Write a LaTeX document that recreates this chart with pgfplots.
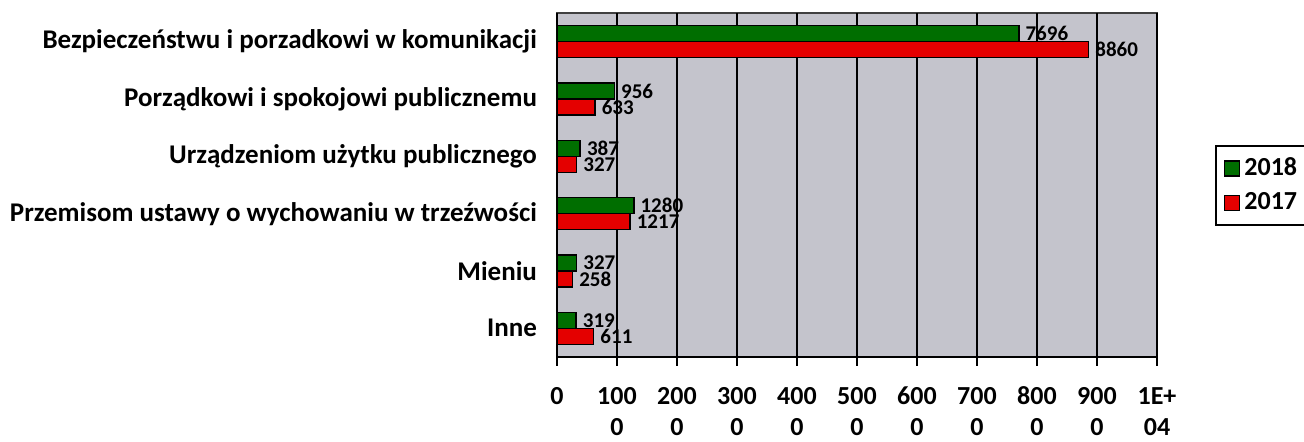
\documentclass[border=0pt]{standalone}
\usepackage{fontspec}
\setmainfont{Carlito}
\usepackage{pgfplots}
\pgfplotsset{compat=1.18}
\definecolor{bgray}{RGB}{196,196,204}
\definecolor{dgreen}{RGB}{0,110,0}
\definecolor{bred}{RGB}{228,0,0}
\begin{document}
\begin{tikzpicture}
\path[use as bounding box] (-278.5pt,-42.5pt) rectangle (373.5pt,178.5pt);
\begin{axis}[
  at={(0,0)}, anchor=south west,
  scale only axis, width=300pt, height=172pt,
  xbar, bar width=8pt,
  xmin=0, xmax=10000, ymin=-0.5, ymax=5.5,
  axis background/.style={fill=bgray, draw=black!75, line width=0.6pt},
  axis x line*=bottom, axis y line*=left,
  axis line style={black, line width=1pt, -},
  xmajorgrids, major grid style={black, line width=1pt},
  tick align=outside,
  xtick={0,1000,2000,3000,4000,5000,6000,7000,8000,9000,10000},
  xticklabels={0,100,200,300,400,500,600,700,800,900,1E+},
  xtick style={black, line width=1pt},
  major tick length=4.5pt,
  xticklabel style={font=\fontsize{13}{15}\selectfont\bfseries, anchor=base, yshift=-19.5pt},
  extra x ticks={1000,2000,3000,4000,5000,6000,7000,8000,9000,10000},
  extra x tick labels={0,0,0,0,0,0,0,0,0,04},
  extra x tick style={xticklabel style={yshift=-15.5pt}},
  ytick={0,1,2,3,4,5},
  yticklabels={Inne, Mieniu, Przemisom ustawy o wychowaniu w trzeźwości, Urządzeniom użytku publicznego, Porządkowi i spokojowi publicznemu, Bezpieczeństwu i porzadkowi w komunikacji},
  ytick style={draw=none},
  minor ytick={-0.5,0.5,1.5,2.5,3.5,4.5,5.5},
  minor tick length=3pt,
  minor tick style={black, line width=1pt},
  yticklabel style={font=\fontsize{13.5}{16}\selectfont\bfseries, xshift=-2pt},
  point meta=x,
  nodes near coords={\pgfmathprintnumber[assume math mode=true,1000 sep={}]{\pgfplotspointmeta}},
  every node near coord/.append style={font=\fontsize{10.5}{12}\selectfont\bfseries, anchor=west, xshift=1pt, inner sep=2pt},
  legend style={at={(1.097,0.381)}, anchor=south west, draw=black, line width=1pt,
    font=\fontsize{13}{15}\selectfont\bfseries, row sep=3pt, inner xsep=4pt, inner ysep=4pt},
  legend cell align=left,
  legend image code/.code={\draw[#1, draw=black, line width=0.6pt] (0pt,-3.75pt) rectangle (7.5pt,3.75pt);},
]
\addplot[fill=dgreen, draw=black, line width=0.8pt, bar shift=4pt]
  coordinates {(7696,5) (956,4) (387,3) (1280,2) (327,1) (319,0)};
\addlegendentry{2018}
\addplot[fill=bred, draw=black, line width=0.8pt, bar shift=-4pt]
  coordinates {(8860,5) (633,4) (327,3) (1217,2) (258,1) (611,0)};
\addlegendentry{2017}
\end{axis}
\end{tikzpicture}
\end{document}
